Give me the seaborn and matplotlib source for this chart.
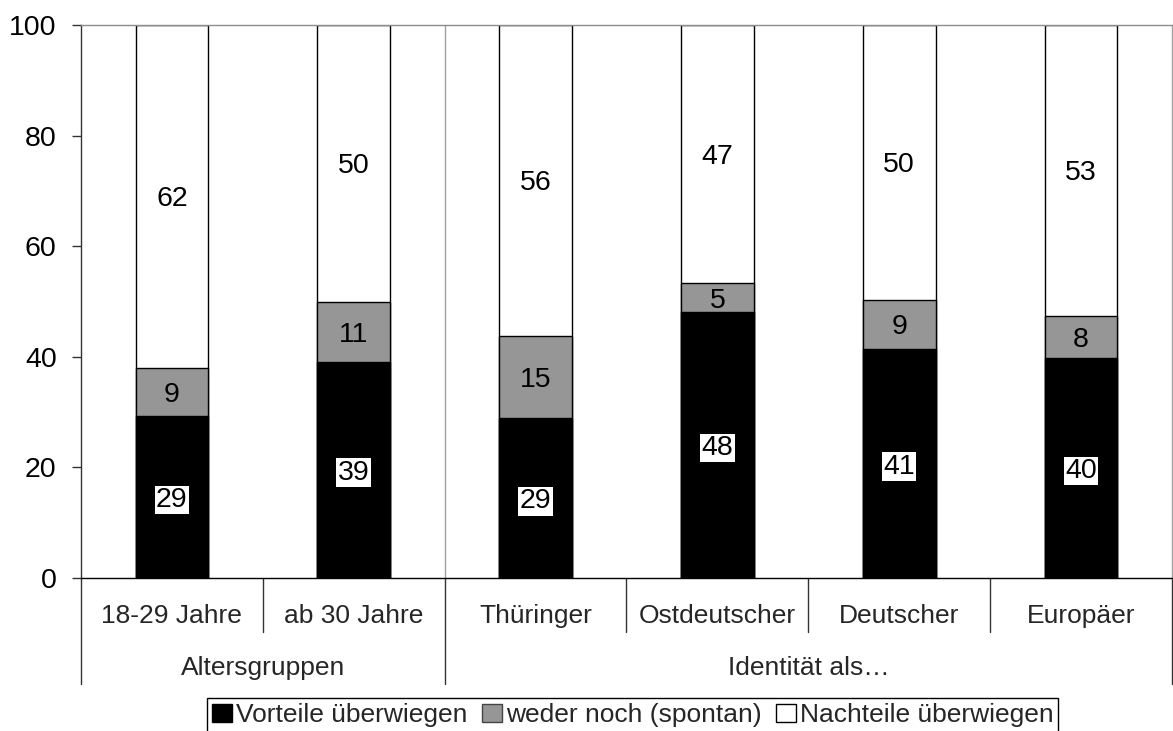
import pandas as pd
import matplotlib.pyplot as plt
import matplotlib.transforms as mtransforms
from matplotlib.patches import Patch
import seaborn as sns

sns.set_theme(style = "white")
plt.rcParams["font.family"] = ["Liberation Sans", "DejaVu Sans"]

# Data
categories = ["18-29 Jahre", "ab 30 Jahre", "Thüringer", "Ostdeutscher", "Deutscher", "Europäer"]
groups = ["Altersgruppen", "Identität als…"]
group_spans = [(0, 1), (2, 5)]
vorteile = [29.3, 39.1, 28.9, 48.1, 41.4, 39.8]
weder = [8.7, 10.9, 14.9, 5.2, 8.9, 7.6]
nachteile = [62.0, 50.0, 56.2, 46.7, 49.7, 52.6]
labels_v = [29, 39, 29, 48, 41, 40]
labels_w = [9, 11, 15, 5, 9, 8]
labels_n = [62, 50, 56, 47, 50, 53]
series_names = ["Vorteile überwiegen", "weder noch (spontan)", "Nachteile überwiegen"]

df = pd.DataFrame({"cat": categories, "v": vorteile, "w": weder, "n": nachteile})
df["vw"] = df["v"] + df["w"]
df["total"] = df["vw"] + df["n"]

GRAY = "#969696"
fig = plt.figure(figsize = (11.73, 7.31), dpi = 100)
ax = fig.add_axes([81 / 1173, 1 - 578 / 731, 1091 / 1173, 553 / 731])

# Stacked bars: draw cumulative totals from the top layer down
for col, colour in [("total", "white"), ("vw", GRAY), ("v", "black")]:
    sns.barplot(data = df, x = "cat", y = col, order = categories, color = colour,
                saturation = 1, width = 0.4, edgecolor = "black", linewidth = 1,
                errorbar = None, ax = ax)

# Segment labels (nudged down a little so the digits sit centred)
lbl_trans = mtransforms.offset_copy(ax.transData, fig = fig, x = 0, y = -3, units = "dots")
for i in range(len(categories)):
    ax.text(i, vorteile[i] / 2, str(labels_v[i]), ha = "center", va = "center", fontsize = 20.5,
            color = "black", transform = lbl_trans,
            bbox = dict(facecolor = "white", edgecolor = "none", pad = 1))
    ax.text(i, vorteile[i] + weder[i] / 2, str(labels_w[i]), ha = "center", va = "center",
            fontsize = 20.5, color = "black", transform = lbl_trans)
    ax.text(i, df["vw"][i] + nachteile[i] / 2, str(labels_n[i]), ha = "center", va = "center",
            fontsize = 20.5, color = "black", transform = lbl_trans)

ax.set_xlim(-0.5, 5.5)
ax.set_ylim(0, 100)
ax.set_yticks(range(0, 101, 20))
ax.set_xticks([])
ax.set_xlabel("")
ax.set_ylabel("")
ax.tick_params(axis = "y", labelsize = 20.5, length = 6.5, width = 1, color = "#333333",
               pad = 11, left = True, labelcolor = "black")

ax.spines["left"].set_color("#333333")
ax.spines["bottom"].set_color("black")
ax.spines["top"].set_color("#8c8c8c")
ax.spines["right"].set_color("#a0a0a0")
for s in ax.spines.values():
    s.set_linewidth(1)

# Multi-level category axis
trans = mtransforms.blended_transform_factory(ax.transData, ax.transAxes)
row1 = -(623 - 578) / 553
row2 = -(675 - 578) / 553
tick1 = -(632 - 578) / 553
tick2 = -(684 - 578) / 553

for i, c in enumerate(categories):
    ax.text(i, row1, c, transform = trans, ha = "center", va = "baseline", fontsize = 19)
for g, (a, b) in zip(groups, group_spans):
    ax.text((a + b) / 2, row2, g, transform = trans, ha = "center", va = "baseline", fontsize = 19)

for xs in [0.5, 2.5, 3.5, 4.5]:
    ax.plot([xs, xs], [0, tick1], transform = trans, color = "#333333", lw = 1, clip_on = False)
for xs in [-0.5, 1.5, 5.5]:
    ax.plot([xs, xs], [0, tick2], transform = trans, color = "#333333", lw = 1, clip_on = False)
ax.plot([1.5, 1.5], [0, 1], transform = trans, color = "#a0a0a0", lw = 1, clip_on = False)

# Legend
handles = [Patch(facecolor = "black", edgecolor = "black"),
           Patch(facecolor = GRAY, edgecolor = "#444444"),
           Patch(facecolor = "white", edgecolor = "black")]
leg = fig.legend(handles, series_names, loc = "upper left", bbox_to_anchor = (207 / 1173, 1 - 698 / 731),
                 ncol = 3, fontsize = 19, frameon = True, fancybox = False, framealpha = 1,
                 borderaxespad = 0, borderpad = 0.2, handlelength = 0.75, handleheight = 0.7,
                 handletextpad = 0.15, columnspacing = 0.55)
leg.get_frame().set_edgecolor("black")
leg.get_frame().set_linewidth(1)

plt.savefig("out.png", dpi = 100)
